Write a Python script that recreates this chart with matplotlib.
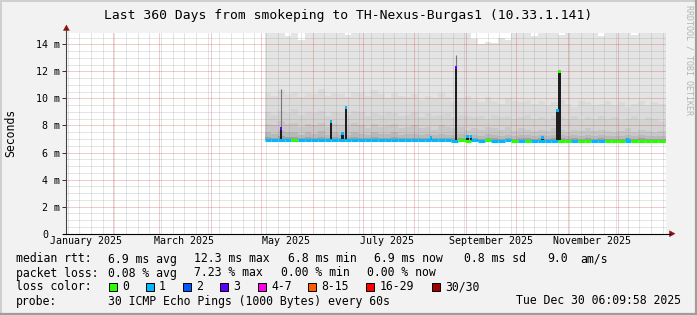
import numpy as np
import pandas as pd
import matplotlib
matplotlib.use("Agg")
import matplotlib.pyplot as plt
import matplotlib.dates as mdates
from matplotlib.patches import Rectangle, Polygon
from matplotlib.lines import Line2D
from matplotlib.transforms import ScaledTranslation

plt.rcParams['font.family'] = ['DejaVu Sans Mono', 'DejaVu Sans']

# ---------------- data ----------------
title = "Last 360 Days from smokeping to TH-Nexus-Burgas1 (10.33.1.141)"
range_start = "2025-01-04 06:09:58"
range_end = "2025-12-30 06:09:58"
bin_first = "2025-05-03 06:00"
bin_days = 4

# smoke layer boundaries (ms) per 4-day bin, from top to bottom
smoke_top = [16, 16, 16, 14.6, 16, 14.3, 16, 16, 16, 16,
             16, 16, 14.7, 16, 16, 16, 16, 16, 16, 16,
             16, 16, 16, 16, 16, 16, 16, 16, 16, 16,
             16, 14.4, 14.0, 14.2, 14.1, 14.5, 14.3, 16, 16, 16,
             14.6, 16, 16, 16, 14.7, 16, 16, 16, 16, 16,
             14.6, 16, 16, 16, 16, 14.7, 16, 16, 16, 16,
             16]
smoke_q1 = [10.4, 10.2, 10.6, 10.3, 10.5, 10.1, 10.4, 10.3, 10.7, 10.2,
            10.4, 10.3, 10.1, 10.5, 10.4, 10.2, 10.6, 10.3, 10.0, 10.4,
            10.2, 10.1, 10.3, 9.9, 10.2, 10.0, 10.4, 10.1, 9.8, 10.0,
            10.2, 9.9, 9.7, 10.1, 9.8, 9.6, 10.0, 9.8, 9.7, 9.9,
            9.6, 9.8, 9.5, 9.7, 9.9, 9.6, 9.4, 9.8, 9.7, 9.5,
            9.6, 9.8, 9.5, 9.7, 9.4, 9.6, 9.8, 9.5, 9.7, 9.6,
            9.5]
smoke_q2 = [9.0, 8.8, 9.1, 8.9, 9.2, 8.8, 9.0, 8.9, 9.1, 8.7,
            9.0, 8.9, 8.8, 9.1, 9.0, 8.7, 8.9, 8.8, 9.0, 8.9,
            8.7, 8.8, 9.0, 8.6, 8.9, 8.7, 8.8, 8.9, 8.6, 8.8,
            8.7, 8.6, 8.7, 8.5, 8.8, 8.6, 8.7, 8.5, 8.6, 8.8,
            8.5, 8.6, 8.4, 8.7, 8.6, 8.5, 8.7, 8.4, 8.6, 8.5,
            8.7, 8.5, 8.6, 8.4, 8.5, 8.7, 8.4, 8.6, 8.5, 8.3,
            8.5]
smoke_q3 = [8.1, 8.0, 8.3, 8.1, 8.2, 7.9, 8.1, 8.0, 8.2, 7.9,
            8.1, 8.0, 7.9, 8.2, 8.0, 7.8, 8.1, 7.9, 8.0, 8.1,
            7.8, 7.9, 8.0, 7.8, 7.9, 7.7, 8.0, 7.9, 7.8, 7.9,
            7.7, 7.8, 7.7, 7.9, 7.8, 7.7, 7.9, 7.6, 7.8, 7.7,
            7.6, 7.7, 7.6, 7.8, 7.7, 7.5, 7.7, 7.6, 7.8, 7.6,
            7.7, 7.6, 7.5, 7.6, 7.8, 7.5, 7.7, 7.6, 7.5, 7.6,
            7.5]
smoke_q4 = [7.5, 7.4, 7.6, 7.5, 7.5, 7.3, 7.5, 7.4, 7.6, 7.3,
            7.5, 7.4, 7.3, 7.5, 7.4, 7.3, 7.5, 7.4, 7.4, 7.5,
            7.3, 7.4, 7.4, 7.3, 7.4, 7.3, 7.4, 7.3, 7.3, 7.4,
            7.3, 7.3, 7.2, 7.4, 7.3, 7.2, 7.3, 7.2, 7.3, 7.3,
            7.2, 7.3, 7.2, 7.3, 7.3, 7.2, 7.3, 7.2, 7.3, 7.2,
            7.3, 7.2, 7.2, 7.2, 7.3, 7.2, 7.3, 7.2, 7.2, 7.2,
            7.2]
smoke_q5 = [7.15, 7.10, 7.20, 7.12, 7.15, 7.08, 7.14, 7.10, 7.18, 7.06,
            7.12, 7.10, 7.08, 7.14, 7.10, 7.06, 7.12, 7.09, 7.10, 7.12,
            7.06, 7.08, 7.10, 7.05, 7.08, 7.04, 7.10, 7.06, 7.05, 7.08,
            7.05, 7.06, 7.03, 7.08, 7.05, 7.03, 7.06, 7.02, 7.05, 7.04,
            7.02, 7.05, 7.02, 7.04, 7.06, 7.02, 7.05, 7.02, 7.04, 7.02,
            7.04, 7.02, 7.01, 7.03, 7.05, 7.01, 7.04, 7.02, 7.01, 7.02,
            7.01]
median_rtt = [6.92, 6.91, 6.92, 6.90, 6.91, 6.90, 6.92, 6.91, 6.92, 6.90,
              6.91, 6.90, 6.90, 6.91, 6.90, 6.89, 6.91, 6.90, 6.90, 6.91,
              6.89, 6.90, 6.90, 6.89, 6.90, 6.89, 6.90, 6.89, 6.88, 6.89,
              6.88, 6.89, 6.88, 6.90, 6.88, 6.88, 6.89, 6.87, 6.88, 6.88,
              6.87, 6.88, 6.87, 6.88, 6.88, 6.87, 6.88, 6.87, 6.88, 6.87,
              6.88, 6.87, 6.86, 6.87, 6.88, 6.86, 6.87, 6.87, 6.86, 6.87,
              6.86]
median_loss = [1, 1, 1, 1, 0, 1, 1, 1, 1, 1,
               1, 1, 1, 1, 1, 1, 1, 1, 1, 1,
               1, 1, 1, 1, 1, 1, 1, 1, 1, 0,
               0, 1, 1, 0, 1, 1, 1, 0, 1, 0,
               1, 1, 1, 1, 0, 0, 1, 0, 0, 1,
               1, 0, 0, 0, 1, 0, 0, 0, 0, 0,
               0]

spike_dates = ["2025-05-13", "2025-06-12", "2025-06-19", "2025-06-21", "2025-08-11",
               "2025-08-26", "2025-09-02", "2025-09-04", "2025-10-17", "2025-10-26",
               "2025-10-27", "2025-12-07"]
spike_top = [7.8, 8.3, 7.4, 9.3, 7.1, 12.3, 7.2, 7.2, 7.1, 9.1, 12.0, 7.0]
spike_loss = [3, 1, 1, 1, 1, 3, 1, 1, 1, 1, 0, 1]
thin_dates = ["2025-05-13", "2025-08-26"]
thin_top = [10.7, 13.2]

month_label_dates = ["2025-01-15 18:00", "2025-03-15 18:00", "2025-05-15 18:00",
                     "2025-07-15 18:00", "2025-09-15 18:00", "2025-11-15 18:00"]
month_labels = ["January 2025", "March 2025", "May 2025", "July 2025",
                "September 2025", "November 2025"]
y_ticks = [0, 2, 4, 6, 8, 10, 12, 14]
y_tick_labels = ["0", "2 m", "4 m", "6 m", "8 m", "10 m", "12 m", "14 m"]

loss_labels = ["0", "1", "2", "3", "4-7", "8-15", "16-29", "30/30"]
loss_colors = ["#26ff00", "#00b8ff", "#0059ff", "#5e00ff", "#ff00ea",
               "#ff5e00", "#ff0000", "#a10000"]

legend_rtt = [("median rtt:", 16), ("6.9 ms avg", 107.5), ("12.3 ms max", 194),
              ("6.8 ms min", 288), ("6.9 ms now", 374), ("0.8 ms sd", 464),
              ("9.0", 547), ("am/s", 580)]
legend_loss = [("packet loss:", 16), ("0.08 % avg", 107.5), ("7.23 % max", 194),
               ("0.00 % min", 281), ("0.00 % now", 367)]
probe_text = "30 ICMP Echo Pings (1000 Bytes) every 60s"
date_text = "Tue Dec 30 06:09:58 2025"

# ---------------- figure ----------------
W, H = 697, 315
fig = plt.figure(figsize=(W / 100, H / 100), dpi=100, facecolor="#f2f2f2")

def fx(px):
    return px / W

def fy(py):
    return 1 - py / H

x0, x1 = 66.4, 666.4
y_zero, y_top = 233.7, 32.8
ymax = 14.85
ax = fig.add_axes([fx(x0), fy(y_zero), (x1 - x0) / W, (y_zero - y_top) / H])
ax.set_facecolor("white")

t0 = mdates.date2num(pd.Timestamp(range_start).to_pydatetime())
t1 = mdates.date2num(pd.Timestamp(range_end).to_pydatetime())
ax.set_xlim(t0, t1)
ax.set_ylim(0, ymax)

n = len(median_rtt)
starts = pd.date_range(bin_first, periods=n, freq=f"{bin_days}D")
edges = np.append(mdates.date2num(starts.to_pydatetime()), t1)

def ext(a):
    a = np.asarray(a, dtype=float)
    return np.append(a, a[-1])

layers = [smoke_top, smoke_q1, smoke_q2, smoke_q3, smoke_q4, smoke_q5, median_rtt]
shades = ["#e4e4e4", "#dbdbdb", "#d3d3d3", "#c8c8c8", "#b9b9b9", "#a2a2a2"]
for k in range(len(layers) - 1):
    ax.fill_between(edges, ext(layers[k + 1]), ext(layers[k]), step="post",
                    color=shades[k], linewidth=0, zorder=1)

# thin max lines
td = mdates.date2num(pd.to_datetime(thin_dates).to_pydatetime())
ax.vlines(td, 7.0, thin_top, colors="#777777", linewidth=0.8, zorder=3)

# spikes
sd = mdates.date2num(pd.to_datetime(spike_dates).to_pydatetime())
idx = np.clip(np.searchsorted(edges, sd) - 1, 0, n - 1)
base = np.asarray(median_rtt)[idx]
ax.bar(sd, np.asarray(spike_top) - base, bottom=base, width=1.5,
       color="#1e1e1e", linewidth=0, zorder=4)
ax.scatter(sd, spike_top, marker="s", s=4, c=[loss_colors[l] for l in spike_loss],
           linewidths=0, zorder=6)

# median line coloured by loss
ax.hlines(median_rtt, edges[:-1], edges[1:],
          colors=[loss_colors[l] for l in median_loss], linewidth=2.2, zorder=5)

# grid
ax.xaxis.set_major_locator(mdates.MonthLocator(bymonthday=1))
ax.xaxis.set_minor_locator(mdates.WeekdayLocator(byweekday=mdates.SU))
ax.set_yticks(y_ticks)
ax.set_yticklabels(y_tick_labels, fontsize=7.2)
ax.yaxis.set_minor_locator(matplotlib.ticker.MultipleLocator(0.5))
ax.set_axisbelow(False)
dot = (0, (1, 1))
ax.grid(which="minor", color="#8c8c8c", alpha=0.45, linestyle=dot, linewidth=0.72)
ax.grid(which="major", color="#d03030", alpha=0.5, linestyle=dot, linewidth=0.72)
ax.tick_params(axis="x", which="both", length=0, labelbottom=False)
ax.tick_params(axis="y", which="major", length=2.9, width=0.72, color="#333333",
               direction="out", pad=1.7, labelcolor="black")
ax.tick_params(axis="y", which="minor", length=0)
for s in ax.spines.values():
    s.set_visible(False)
# the "0" label sits where the digits of the other labels end
lab0 = ax.get_yticklabels()[0]
lab0.set_transform(lab0.get_transform() + ScaledTranslation(-12 / 100, 0, fig.dpi_scale_trans))

# month labels
for d, lab in zip(month_label_dates, month_labels):
    xd = mdates.date2num(pd.Timestamp(d).to_pydatetime())
    ax.annotate(lab, xy=(xd, H - 244), xycoords=("data", "figure pixels"),
                ha="center", va="baseline", fontsize=7.2, annotation_clip=False)

# axes lines and arrows (in figure pixels)
def line_px(xs, ys, color, lw):
    fig.add_artist(Line2D([fx(v) for v in xs], [fy(v) for v in ys],
                          color=color, linewidth=lw, transform=fig.transFigure))

def tri_px(pts, color):
    fig.add_artist(Polygon([(fx(a), fy(b)) for a, b in pts], closed=True,
                           facecolor=color, edgecolor=color, linewidth=0.3,
                           transform=fig.transFigure))

line_px([x0, x0], [y_zero, 29.5], "#444444", 0.8)
line_px([62.5, 670], [y_zero, y_zero], "black", 0.8)
tri_px([(669.5, y_zero - 3), (675, y_zero), (669.5, y_zero + 3)], "#8b1010")
tri_px([(x0 - 3, 30.5), (x0, 25), (x0 + 3, 30.5)], "#8b1010")

# title and labels
fig.text(fx(348.5), fy(18.5), title, ha="center", va="baseline", fontsize=9.4)
fig.text(fx(11), fy(132.5), "Seconds", rotation=90, ha="center", va="center",
         fontsize=8.3)
fig.text(fx(689), fy(5), "RRDTOOL / TOBI OETIKER", rotation=270, ha="center",
         va="top", fontsize=6, color="#b4b4b4")

# legend
LF = 8.3
for txt, px in legend_rtt:
    fig.text(fx(px), fy(262.5), txt, ha="left", va="baseline", fontsize=LF)
for txt, px in legend_loss:
    fig.text(fx(px), fy(276.5), txt, ha="left", va="baseline", fontsize=LF)
fig.text(fx(16), fy(290.5), "loss color:", ha="left", va="baseline", fontsize=LF)
box_x = [108.6, 145.6, 183, 220, 257.9, 308.2, 366, 431.6]
for bx, lab, col in zip(box_x, loss_labels, loss_colors):
    fig.add_artist(Rectangle((fx(bx), fy(291)), 8 / W, 8 / H, facecolor=col,
                             edgecolor="black", linewidth=0.7,
                             transform=fig.transFigure))
    fig.text(fx(bx + 13.5), fy(290.5), lab, ha="left", va="baseline", fontsize=LF)
fig.text(fx(16), fy(304.5), "probe:", ha="left", va="baseline", fontsize=LF)
fig.text(fx(107.5), fy(304.5), probe_text, ha="left", va="baseline", fontsize=LF)
fig.text(fx(681), fy(304.5), date_text, ha="right", va="baseline", fontsize=LF)

# frame
line_px([0.5, 696], [0.8, 0.8], "#cfcfcf", 1.4)
line_px([0.8, 0.8], [0.5, 314], "#cfcfcf", 1.4)
line_px([1, 696.5], [313.6, 313.6], "#9e9e9e", 1.6)
line_px([695.8, 695.8], [1, 314.5], "#9e9e9e", 1.6)

fig.savefig("out.png", dpi=100, facecolor=fig.get_facecolor())
